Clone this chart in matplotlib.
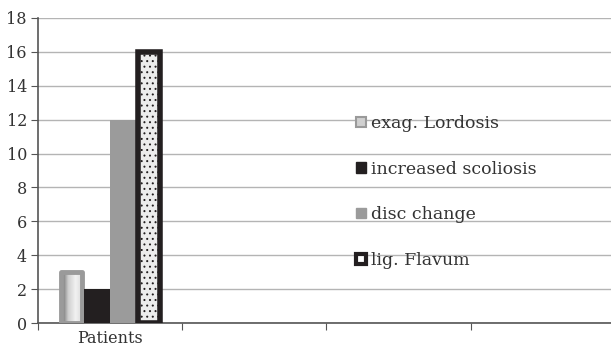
import matplotlib
matplotlib.use("Agg")
import matplotlib.pyplot as plt
import numpy as np
from matplotlib.patches import Patch

categories = ["Patients", "", "", ""]
series_names = ["exag. Lordosis", "increased scoliosis", "disc change", "lig. Flavum"]
values = [3, 2, 12, 16]
yticks = list(range(0, 19, 2))

plt.rcParams['font.family'] = ['DejaVu Serif']
plt.rcParams['hatch.color'] = '#d6d6d6'
plt.rcParams['hatch.linewidth'] = 0.7

fig = plt.figure(figsize=(6.11, 3.46), dpi=100)
W, H = 611, 346
ax = fig.add_axes([38 / W, 1 - 323 / H, (615 - 38) / W, (323 - 18) / H])

ax.set_xlim(0, len(categories))
ax.set_ylim(0, 18)

width = 0.18
xs = [0.5 + (i - 1.5) * width for i in range(len(values))]

ax.set_yticks(yticks)
ax.yaxis.grid(True, color='#b4b4b4', linewidth=1.0)
ax.set_axisbelow(True)

# Bar 1: gradient fill with grey rounded border
b1 = ax.bar(xs[0], values[0], width=width * 0.82, facecolor='none',
            edgecolor='#9a9a9a', linewidth=3.5, joinstyle='round', zorder=3)[0]
grad = np.linspace(0, 1, 256).reshape(1, -1)
x0 = xs[0] - width * 0.41
im = ax.imshow(grad, cmap=matplotlib.colors.LinearSegmentedColormap.from_list(
    'g', ['#5a5a5a', '#cfcfcf', '#f2f2f2', '#d8d8d8']),
    extent=[x0, x0 + width * 0.82, 0, values[0]], aspect='auto', zorder=2)
im.set_clip_path(b1)

# Bar 2: black
ax.bar(xs[1], values[1], width=width * 0.98, color='#231f20', zorder=3)
# Bar 3: grey
ax.bar(xs[2], values[2], width=width * 0.98, color='#9b9b9b', zorder=3)
# Bar 4: light textured with thick black border
ax.bar(xs[3], values[3], width=width * 0.86, facecolor='#ececec',
       edgecolor='#231f20', linewidth=4, hatch='...', zorder=3)

ax.set_aspect('auto')
ax.set_xlim(0, len(categories))
ax.set_ylim(0, 18)

ax.set_xticks([i for i in range(len(categories) + 1)])
ax.set_xticklabels([])
ax.set_xticks([i + 0.5 for i in range(len(categories))], minor=True)
ax.set_xticklabels(categories, minor=True)
ax.tick_params(axis='x', which='minor', length=0, pad=5, labelsize=11.5, labelcolor='#333333')
ax.tick_params(axis='x', which='major', length=5, color='#555555', direction='out')
ax.tick_params(axis='y', length=5, color='#555555', direction='out', labelsize=11.5,
               labelcolor='#333333', pad=3)

for s in ['top', 'right']:
    ax.spines[s].set_visible(False)
ax.spines['left'].set_color('#555555')
ax.spines['bottom'].set_color('#555555')
ax.spines['left'].set_linewidth(1.2)
ax.spines['bottom'].set_linewidth(1.2)

handles = [
    Patch(facecolor='#d0d0d0', edgecolor='#9a9a9a', linewidth=1.5),
    Patch(facecolor='#231f20', edgecolor='#231f20'),
    Patch(facecolor='#9b9b9b', edgecolor='#9b9b9b'),
    Patch(facecolor='#ffffff', edgecolor='#231f20', linewidth=3),
]
leg = ax.legend(handles, series_names, loc='upper left',
                bbox_to_anchor=((356 - 38) / (615 - 38), (323 - 115) / (323 - 18)),
                frameon=False, fontsize=12.5, labelspacing=1.65,
                handlelength=0.55, handleheight=0.55, handletextpad=0.3,
                borderpad=0, borderaxespad=0, labelcolor='#333333')

fig.savefig("out.png", dpi=100)
